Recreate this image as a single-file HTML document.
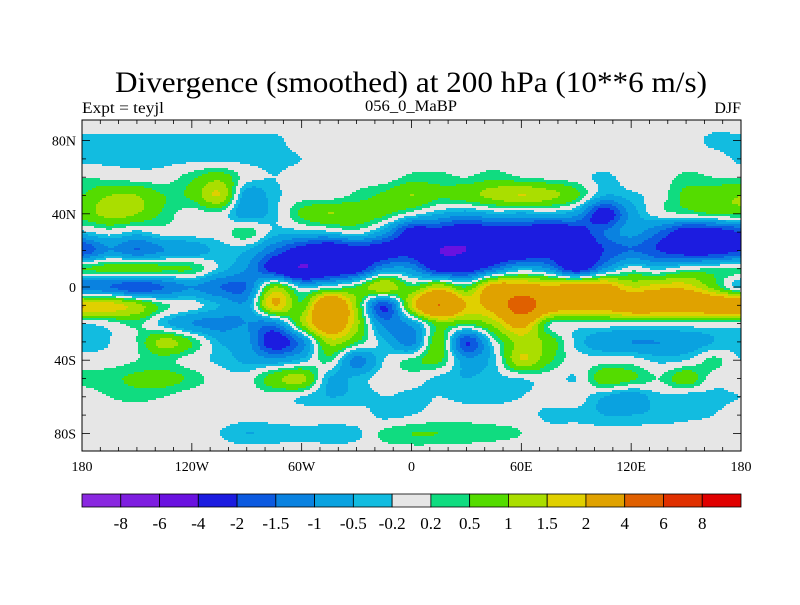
<!DOCTYPE html>
<html><head><meta charset="utf-8">
<style>
html,body{margin:0;padding:0;background:#fff;}
svg text{font-family:"Liberation Serif",serif;fill:#000;}
</style></head>
<body>
<svg id="chart" width="800" height="600" viewBox="0 0 800 600" xmlns="http://www.w3.org/2000/svg">
<rect width="800" height="600" fill="#fff"/>
<text x="411" y="92" font-size="30" text-anchor="middle" textLength="592" lengthAdjust="spacingAndGlyphs">Divergence (smoothed) at 200 hPa (10**6 m/s)</text>
<text x="82" y="113" font-size="16" textLength="82" lengthAdjust="spacingAndGlyphs">Expt = teyjl</text>
<text x="411" y="111" font-size="16" text-anchor="middle" textLength="92" lengthAdjust="spacingAndGlyphs">056_0_MaBP</text>
<text x="741" y="113" font-size="16" text-anchor="end">DJF</text>
<g id="field"></g>
<g id="axes"></g>
<g id="colorbar"></g>
</svg>
<script>
// grid longitudes and latitudes
const lons = [-180,-165,-150,-135,-120,-105,-90,-75,-60,-45,-30,-15,0,15,30,45,60,75,90,105,120,135,150,165,180];
const lats = [90,80,70,60,50,40,30,20,10,0,-10,-20,-30,-40,-50,-60,-70,-80,-90];
// divergence values (rows = lats, cols = lons)
const values = [
[0,0,0,0,0,0,0,0,0,0,0,0,0,0,0,0,0,0,0,0,0,0,0,0,0],
[-0.3,-0.3,-0.3,-0.3,-0.3,-0.3,-0.3,-0.3,0,0,0,0,0,0,0,0,0,0,0,0,0,0,0,-0.3,-0.3],
[-0.3,-0.3,-0.3,-0.3,-0.3,-0.3,-0.3,-0.3,-0.2,0,0,0,0,0,0,0,0,0,0,0,0,0,0,0,-0.3],
[0.2,0.1,0,0,0.4,0.8,0,-0.2,0,0,0,0,0.3,0.3,0.2,0.4,0.2,0.1,0,-0.3,0,0,0.3,0.2,0.2],
[0.5,1.0,1.0,0.5,0.6,1.5,-0.8,-0.3,0,0,0.3,0.6,1.0,0.6,0.8,1.2,1.5,1.2,0.6,-0.5,-0.3,0,0.6,0.8,1.0],
[0.7,1.2,1.0,0.4,0,0.1,-0.8,-0.3,0.6,1.0,0.8,0.6,0,-0.5,-0.8,-0.5,-0.6,-0.5,-0.8,-2.5,-0.8,0,0.2,0.5,0.6],
[-0.3,0,-0.3,0,0,0,0.4,-0.3,-0.4,-0.3,0,-0.8,-2.5,-2.5,-3,-2.5,-2.5,-3,-2.5,-1.5,-0.8,-1.5,-2.5,-2.5,-2],
[-2.0,-1,-1.5,-1,-0.8,-0.4,-0.5,-1.5,-2.5,-3,-2.5,-2.5,-2.5,-4,-4,-3,-3,-2.5,-3,-2,-1.5,-2,-2.5,-2.5,-2],
[0.5,0.7,0.8,0.6,0.5,-0.3,-1,-2.5,-4,-3,-2.5,-1,-1,-2.5,-2.5,-1.5,-0.5,-1,-2.5,-1,0,-0.3,0.1,0.2,0.3],
[-1.5,-1.5,-2,-1.5,-1,-1.5,-1.5,1.0,-0.3,0,0.5,1.5,0.5,1.5,0.5,2.5,2.5,2.2,2.5,2.5,1.5,1.8,1.8,0.8,-0.4],
[2.0,1.8,1.2,0.3,0,-0.5,-0.8,2.0,0.6,3.5,1,-2,1.5,4,2,2.5,5,3,2.5,2.5,3,3,3,3,3],
[-0.2,0,0.3,-0.4,-1,-1.2,-1,-1.2,1.0,3,1.2,-1.2,-0.8,0.8,0.5,1.2,2.5,0.3,0.1,0.1,0.1,0.1,0.1,0.1,0.1],
[-0.4,-0.2,0.2,1.2,0.5,-0.5,-0.8,-2.5,-1.2,1.2,0.5,-0.4,-1.2,0.8,-2,0,1.2,0.8,-0.3,-0.8,-1,-1,-0.8,-0.5,-0.3],
[0,0,0.2,0.3,0,-0.3,-0.6,-0.8,-0.4,0.3,-1.2,-0.2,0.3,0.6,-0.8,-0.3,1.5,0.6,0,0,0,-0.3,-0.2,0.3,-0.2],
[0.3,0.4,0.6,0.7,0.4,0,0,0.8,1.2,-0.5,-0.4,0,0,-0.3,-0.5,-0.3,-0.2,0,-0.2,0.8,0.6,0.2,0.8,0,0],
[0,0.2,0.3,0.2,0,0,0,0,-0.2,-0.5,-0.4,-0.2,-0.3,-0.2,-0.3,-0.3,-0.2,0,0,-0.5,-0.8,-0.3,-0.4,-0.3,-0.2],
[0,0,0,0,0,0,0,0,0,0,0,-0.3,-0.2,0,0,0,0,-0.3,-0.3,-0.5,-0.5,-0.4,-0.3,-0.2,0],
[0,0,0,0,0,-0.2,-0.5,-0.4,-0.3,-0.4,-0.3,0.3,0.5,0.5,0.4,0.3,0.2,0,0,0,0,0,0,0,0],
[0,0,0,0,0,0,0,0,0,0,0,0,0,0,0,0,0,0,0,0,0,0,0,0,0]
];
const levels = [-8,-6,-4,-2,-1.5,-1,-0.5,-0.2,0.2,0.5,1,1.5,2,4,6,8];
const levelLabels = ["-8","-6","-4","-2","-1.5","-1","-0.5","-0.2","0.2","0.5","1","1.5","2","4","6","8"];
const colors = ["#8a28e0","#7e1ee0","#6a12e0","#1c1ce0","#0c5ae0","#0a82e0","#0aa2e0","#12bce0","#e6e6e6","#10dc80","#54dc00","#aade00","#e0d000","#e0a200","#e06000","#e03000","#e00000"];
const lonTicks = [-180,-120,-60,0,60,120,180];
const lonTickLabels = ["180","120W","60W","0","60E","120E","180"];
const latTicks = [80,40,0,-40,-80];
const latTickLabels = ["80N","40N","0","40S","80S"];

const NS="http://www.w3.org/2000/svg";
const X0=82,X1=741,Y0=120,Y1=451;
const xOf = lon => X0 + (lon+180)/360*(X1-X0);
const yOf = lat => 287 - lat*1.83;
function colorIdx(v){let i=0;while(i<levels.length&&v>=levels[i])i++;return i;}
function cr(p0,p1,p2,p3,t){return 0.5*((2*p1)+(-p0+p2)*t+(2*p0-5*p1+4*p2-p3)*t*t+(-p0+3*p1-3*p2+p3)*t*t*t);}
function g(j,i){j=Math.max(0,Math.min(lats.length-1,j));i=Math.max(0,Math.min(lons.length-1,i));return values[j][i];}
function val(lon,lat){
  let fi=(lon+180)/15, fj=(90-lat)/10;
  let i=Math.min(Math.floor(fi),lons.length-2), j=Math.min(Math.floor(fj),lats.length-2);
  let tx=fi-i, ty=fj-j;
  const rows=[];
  for(let k=-1;k<=2;k++){rows.push(cr(g(j+k,i-1),g(j+k,i),g(j+k,i+1),g(j+k,i+2),tx));}
  return cr(rows[0],rows[1],rows[2],rows[3],ty);
}
const field=document.getElementById('field');
const bg=document.createElementNS(NS,'rect');
bg.setAttribute('x',X0);bg.setAttribute('y',Y0);bg.setAttribute('width',X1-X0);bg.setAttribute('height',Y1-Y0);bg.setAttribute('fill','#e6e6e6');


field.appendChild(bg);
const S=2;
for(let y=Y0;y<Y1;y+=S){
  const lat=(287-(y+S/2))/1.83;
  let runStart=X0, runC=null;
  for(let x=X0;;x+=S){
    const end = x>=X1;
    let c=null;
    if(!end){const lon=(x+S/2-X0)/(X1-X0)*360-180; c=colorIdx(val(lon,Math.max(-90,Math.min(90,lat))));}
    if(c!==runC || end){
      if(runC!==null && runC!==8){
        const r=document.createElementNS(NS,'rect');
        r.setAttribute('x',runStart);r.setAttribute('y',y);
        r.setAttribute('width',Math.min(x,X1)-runStart);r.setAttribute('height',Math.min(S,Y1-y));
        r.setAttribute('fill',colors[runC]);
        
        
        field.appendChild(r);
      }
      runStart=x;runC=c;
    }
    if(end)break;
  }
}
const axes=document.getElementById('axes');
function line(x1,y1,x2,y2,w,name){
  const l=document.createElementNS(NS,'line');
  l.setAttribute('x1',x1);l.setAttribute('y1',y1);l.setAttribute('x2',x2);l.setAttribute('y2',y2);
  l.setAttribute('stroke','#000');l.setAttribute('stroke-width',w);
  
  
  axes.appendChild(l);
}
function text(x,y,s,anchor,size,name,parent){
  const t=document.createElementNS(NS,'text');
  t.setAttribute('x',x);t.setAttribute('y',y);t.setAttribute('text-anchor',anchor);t.setAttribute('font-size',size);
  t.textContent=s;
  
  
  parent.appendChild(t);
}
const frame=document.createElementNS(NS,'rect');
frame.setAttribute('x',X0);frame.setAttribute('y',Y0);frame.setAttribute('width',X1-X0);frame.setAttribute('height',Y1-Y0);
frame.setAttribute('fill','none');frame.setAttribute('stroke','#000');frame.setAttribute('stroke-width','1');


axes.appendChild(frame);
for(let lon=-170;lon<180;lon+=10){
  const x=xOf(lon), len=(lon%60===0)?8:4;
  line(x,Y1,x,Y1-len,0.8,'x-tick');line(x,Y0,x,Y0+len,0.8,'x-tick');
}
for(let lat=-80;lat<=80;lat+=10){
  const y=yOf(lat), len=(lat%40===0)?8:4;
  line(X0,y,X0+len,y,0.8,'y-tick');line(X1,y,X1-len,y,0.8,'y-tick');
}
lonTicks.forEach((lon,i)=>text(xOf(lon),471,lonTickLabels[i],'middle',14,'x-tick-label',axes));
latTicks.forEach((lat,i)=>text(76,yOf(lat)+5,latTickLabels[i],'end',14,'y-tick-label',axes));
const cb=document.getElementById('colorbar');
const bw=(X1-X0)/colors.length;
colors.forEach((c,i)=>{
  const r=document.createElementNS(NS,'rect');
  r.setAttribute('x',X0+i*bw);r.setAttribute('y',494);r.setAttribute('width',bw);r.setAttribute('height',13);
  r.setAttribute('fill',c);r.setAttribute('stroke','#000');r.setAttribute('stroke-width','0.8');
  
  
  cb.appendChild(r);
});
levelLabels.forEach((s,i)=>text(X0+(i+1)*bw,529,s,'middle',17,'colorbar-label',cb));
</script>
</body></html>
